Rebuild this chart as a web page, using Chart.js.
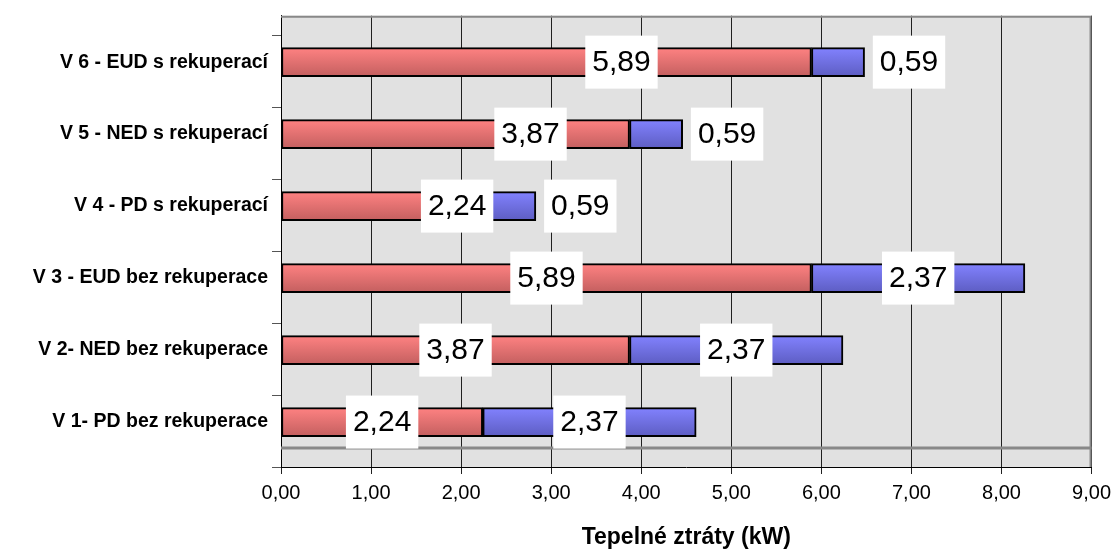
<!DOCTYPE html>
<html>
<head>
<meta charset="utf-8">
<script src="https://cdn.jsdelivr.net/npm/chart.js@4/dist/chart.umd.min.js"></script>
<style>
  body { margin: 0; background: #fff; }
  #wrap { width: 1118px; height: 552px; }
</style>
</head>
<body>
<div id="wrap"><canvas id="ztraty"></canvas></div>
<script>
// kategorie odspodu nahoru (V 1 je dole)
const categories = [
  "V 1- PD bez rekuperace",
  "V 2- NED bez rekuperace",
  "V 3 - EUD bez rekuperace",
  "V 4 - PD s rekuperací",
  "V 5 - NED s rekuperací",
  "V 6 - EUD s rekuperací"
];
const prostup = [2.24, 3.87, 5.89, 2.24, 3.87, 5.89];   // červená
const vetrani = [2.37, 2.37, 2.37, 0.59, 0.59, 0.59];   // modrá
const xTicks = [0, 1, 2, 3, 4, 5, 6, 7, 8, 9];

const Y_MIN = -0.624, Y_MAX = 5.645;
const FONT = '"Liberation Sans", Arial, sans-serif';
Chart.defaults.font.family = FONT;
Chart.defaults.color = "#000";

const fmt = v => v.toFixed(2).replace(".", ",");

function gradient(top, bottom) {
  return (c) => {
    const ys = c.chart.scales.y;
    if (!ys || !c.parsed) return top;
    const y = ys.getPixelForValue(c.parsed.y);
    if (!isFinite(y)) return top;
    const g = c.chart.ctx.createLinearGradient(0, y - 14.5, 0, y + 14.5);
    g.addColorStop(0, top);
    g.addColorStop(1, bottom);
    return g;
  };
}

// šedé pozadí grafu + okraje
const plotBox = {
  id: "plotBox",
  beforeDraw(chart) {
    const { ctx, chartArea: a } = chart;
    ctx.save();
    ctx.fillStyle = "#e1e1e1";
    ctx.fillRect(a.left, a.top, a.right - a.left, a.bottom - a.top);
    ctx.restore();
  },
  beforeDatasetsDraw(chart) {
    const { ctx, chartArea: a } = chart;
    ctx.save();
    ctx.strokeStyle = "#888";
    ctx.lineWidth = 2;
    ctx.beginPath();
    ctx.moveTo(a.left, a.top + 1);
    ctx.lineTo(a.right - 1, a.top + 1);
    ctx.lineTo(a.right - 1, a.bottom);
    ctx.stroke();
    ctx.lineWidth = 3;
    ctx.beginPath();
    ctx.moveTo(a.left, a.bottom - 19);
    ctx.lineTo(a.right, a.bottom - 19);
    ctx.stroke();
    ctx.restore();
  }
};

// popisky hodnot v bílých rámečcích
const boxLabels = {
  id: "boxLabels",
  afterDatasetsDraw(chart) {
    const ctx = chart.ctx;
    ctx.save();
    ctx.font = "30px " + FONT;
    ctx.textAlign = "center";
    ctx.textBaseline = "middle";
    chart.data.datasets.forEach((ds, di) => {
      chart.getDatasetMeta(di).data.forEach((bar, i) => {
        const txt = fmt(ds.data[i].x);
        let cx = (bar.x + bar.base) / 2;
        if (categories[i].includes("s rekuperací")) cx += ds.labelShift;
        const w = ctx.measureText(txt).width + 14;
        ctx.fillStyle = "#fff";
        ctx.fillRect(cx - w / 2, bar.y - 26.5, w, 53);
        ctx.fillStyle = "#000";
        ctx.fillText(txt, cx, bar.y + 1);
      });
    });
    ctx.restore();
  }
};

new Chart(document.getElementById("ztraty"), {
  type: "bar",
  data: {
    datasets: [
      {
        data: prostup.map((v, i) => ({ x: v, y: i })),
        backgroundColor: gradient("#ff8282", "#c35f5f"),
        borderColor: "#000",
        borderWidth: 2,
        borderSkipped: false,
        barThickness: 29,
        labelShift: 75
      },
      {
        data: vetrani.map((v, i) => ({ x: v, y: i })),
        backgroundColor: gradient("#8282ff", "#5d5dc2"),
        borderColor: "#000",
        borderWidth: 2,
        borderSkipped: false,
        barThickness: 29,
        labelShift: 71
      }
    ]
  },
  options: {
    indexAxis: "y",
    responsive: true,
    maintainAspectRatio: false,
    animation: false,
    layout: { padding: { top: 15, right: 25, left: 0, bottom: 0 } },
    plugins: { legend: { display: false }, tooltip: { enabled: false } },
    scales: {
      x: {
        type: "linear",
        stacked: true,
        min: 0,
        max: 9,
        afterBuildTicks: s => { s.ticks = xTicks.map(v => ({ value: v })); },
        afterFit: s => { s.height = 85; },
        grid: { color: "#202020", lineWidth: 1, tickLength: 7 },
        border: { color: "#000", width: 1 },
        ticks: { padding: 7, font: { size: 20 }, callback: v => fmt(v) },
        title: {
          display: true,
          text: "Tepelné ztráty (kW)",
          font: { size: 23, weight: "bold" },
          padding: { top: 20, bottom: 1 }
        }
      },
      y: {
        type: "linear",
        stacked: true,
        offset: false,
        bounds: "data",
        min: Y_MIN,
        max: Y_MAX,
        weight: 1,
        afterBuildTicks: s => { s.ticks = categories.map((c, i) => ({ value: i })); },
        afterFit: s => { s.width = 272; },
        grid: { display: false, drawTicks: false, offset: false },
        border: { display: false },
        ticks: { padding: 4, font: { size: 19.5, weight: "bold" }, callback: v => categories[v] }
      },
      yTicks: {
        type: "linear",
        position: "left",
        offset: false,
        bounds: "data",
        min: Y_MIN,
        max: Y_MAX,
        weight: 0,
        afterBuildTicks: s => { s.ticks = [0, 1, 2, 3, 4, 5, 6].map(k => ({ value: Y_MIN + k })); },
        grid: { drawOnChartArea: false, offset: false, tickLength: 9, color: "#555" },
        border: { color: "#000", width: 1 },
        ticks: { display: false }
      }
    }
  },
  plugins: [plotBox, boxLabels]
});
</script>
</body>
</html>
